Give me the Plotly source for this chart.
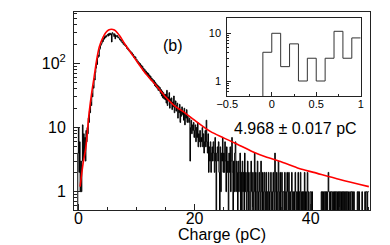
import numpy as np
import plotly.graph_objects as go

# ---------------- data ----------------
BIN_WIDTH = 0.1
FIRST_EDGE = -0.1

counts = [
    4,                                                   # -0.1-0
    10, 2, 6, 1, 3, 1, 3, 11, 3, 8,                      # 0-1
    4, 7, 3, 9, 6, 10, 8, 14, 12, 18,                    # 1-2
    17, 25, 22, 34, 30, 45, 41, 58, 55, 72,              # 2-3
    84, 102, 96, 121, 135, 128, 162, 170, 188, 196,      # 3-4
    205, 231, 218, 246, 238, 262, 249, 270, 258, 276,    # 4-5
    283, 266, 291, 274, 297, 279, 288, 215, 301, 294,    # 5-6
    280, 262, 289, 241, 276, 268, 259, 271, 249, 256,    # 6-7
    244, 232, 238, 221, 227, 209, 214, 198, 205, 191,    # 7-8
    196, 184, 190, 171, 178, 163, 169, 155, 160, 149,    # 8-9
    152, 141, 146, 133, 138, 124, 130, 119, 126, 114,    # 9-10
    116, 104, 109, 98, 103, 93, 99, 88, 94, 85,          # 10-11
    90, 78, 84, 74, 80, 70, 76, 67, 72, 64,              # 11-12
    70, 60, 66, 57, 63, 54, 59, 52, 56, 49,              # 12-13
    54, 45, 51, 43, 48, 41, 46, 38, 44, 37,              # 13-14
    42, 34, 39, 31, 37, 29, 35, 28, 33, 27,              # 14-15
    33, 24, 38, 22, 30, 26, 35, 20, 28, 24,              # 15-16
    29, 19, 25, 21, 31, 17, 23, 26, 18, 22,              # 16-17
    24, 14, 20, 17, 23, 12, 19, 15, 21, 16,              # 17-18
    18, 13, 20, 11, 16, 14, 19, 12, 15, 13,              # 18-19
    12, 14, 3, 10, 13, 8, 11, 9, 12, 7,                  # 19-20
    9, 11, 6, 10, 7, 12, 5, 8, 6, 9,                     # 20-21
    5, 7, 6, 10, 5, 8, 4, 6, 9, 5,                       # 21-22
    13, 6, 4, 8, 2, 5, 3, 6, 2, 4,                       # 22-23
    5, 3, 6, 4, 2, 7, 3, 0, 4, 5,                        # 23-24
    3, 6, 2, 0, 5, 1, 4, 3, 7, 2,                        # 24-25
    4, 2, 6, 3, 1, 5, 2, 3, 0, 4,                        # 25-26
    2, 5, 1, 3, 7, 2, 0, 3, 1, 4,                        # 26-27
    6, 1, 3, 2, 0, 3, 1, 2, 4, 0,                        # 27-28
    2, 0, 3, 1, 2, 0, 4, 1, 2, 0,                        # 28-29
    1, 3, 0, 2, 1, 0, 2, 3, 1, 0,                        # 29-30
    2, 0, 1, 4, 0, 2, 1, 0, 3, 1,                        # 30-31
    0, 2, 1, 0, 3, 1, 0, 2, 0, 1,                        # 31-32
    2, 0, 1, 2, 0, 1, 0, 2, 1, 0,                        # 32-33
    1, 2, 0, 1, 0, 2, 1, 0, 4, 1,                        # 33-34
    0, 2, 1, 0, 3, 1, 0, 2, 0, 1,                        # 34-35
    2, 0, 1, 1, 0, 2, 0, 1, 0, 2,                        # 35-36
    1, 0, 2, 0, 1, 0, 1, 2, 0, 1,                        # 36-37
    0, 1, 0, 2, 1, 0, 1, 0, 2, 0,                        # 37-38
    1, 0, 2, 1, 0, 1, 0, 1, 0, 2,                        # 38-39
    0, 1, 0, 1, 2, 0, 1, 0, 0, 1,                        # 39-40
    1, 0, 1, 0, 0, 0, 0, 0, 0, 0,                        # 40-41
    0, 0, 0, 0, 0, 0, 0, 0, 1, 0,                        # 41-42
    1, 0, 1, 1, 0, 1, 0, 1, 0, 1,                        # 42-43
    2, 1, 0, 1, 0, 1, 1, 0, 1, 0,                        # 43-44
    1, 0, 1, 0, 1, 1, 0, 1, 0, 1,                        # 44-45
    0, 1, 1, 0, 1, 0, 1, 0, 1, 1,                        # 45-46
    0, 1, 0, 1, 1, 0, 0, 1, 0, 1,                        # 46-47
    1, 0, 1, 0, 1, 0, 0, 0, 0, 0,                        # 47-48
    1, 0, 1, 1, 0, 0, 0, 0, 1, 0,                        # 48-49
    0, 0, 0, 1, 0, 1, 1, 0, 1, 1,                        # 49-50
]

fit_x = [0.3, 0.8, 1.3, 1.85, 2.3, 2.7, 3.2, 3.6, 4.2, 4.7, 5.2, 5.7, 6.2, 6.7,
         7.2, 8.0, 9.0, 10.0, 11.5, 13.5, 15.0, 16.5, 18.4, 20.0, 22.7, 25.0,
         27.0, 30.0, 32.2, 35.0, 38.0, 40.5, 45.0, 50.0]
fit_y = [1.2, 2.7, 5.0, 17, 35, 60, 120, 180, 250, 300, 330, 340, 330, 300,
         262, 200, 148, 110, 71, 44, 30, 22, 16.8, 13, 8.7, 6.9,
         5.7, 4.2, 3.5, 2.9, 2.3, 2.0, 1.55, 1.2]

main_xticks = [0, 20, 40]
main_xminor = [5, 10, 15, 25, 30, 35, 45, 50]
main_yticks = [1, 10, 100]
main_yticktext = ["1", "10", "10<sup>2</sup>"]
main_yminor = [0.6, 0.7, 0.8, 0.9, 2, 3, 4, 5, 6, 7, 8, 9,
               20, 30, 40, 50, 60, 70, 80, 90, 200, 300, 400, 500, 600]

inset_nbins = 11
inset_xticks = [-0.5, 0, 0.5, 1]
inset_xticktext = ["\u22120.5", "0", "0.5", "1"]
inset_xminor = [-0.25, 0.25, 0.75]
inset_yticks = [1, 10]
inset_yticktext = ["1", "10"]
inset_yminor = [0.5, 0.6, 0.7, 0.8, 0.9, 2, 3, 4, 5, 6, 7, 8, 9, 20]

label_b = "(b)"
label_val = "4.968 \u00b1 0.017 pC"
x_title = "Charge (pC)"

# ---------------- helpers ----------------
FLOOR = 1e-3
edges = FIRST_EDGE + BIN_WIDTH * np.arange(len(counts) + 1)


def step_xy(c, e):
    ys_vals = [v if v > 0 else FLOOR for v in c]
    xs = [e[0] - 1.0] + list(e)
    ys = [FLOOR] + ys_vals + [ys_vals[-1]]
    return xs, ys


FONT = "Liberation Sans"
W, H = 390, 245
PAGE_OFF = 8  # default body margin of the html page


def px2x(p):
    return (p - PAGE_OFF) / W


def py2y(p):
    return (H - (p - PAGE_OFF)) / H


fig = go.Figure()

hx, hy = step_xy(counts, edges)
fig.add_trace(go.Scatter(x=hx, y=hy, mode="lines", line=dict(color="black", width=1, shape="hv"),
                         xaxis="x", yaxis="y", hoverinfo="skip", showlegend=False))
fig.add_trace(go.Scatter(x=fit_x, y=fit_y, mode="lines",
                         line=dict(color="#ff0000", width=1.6, shape="spline", smoothing=0.8),
                         xaxis="x", yaxis="y", hoverinfo="skip", showlegend=False))

ix, iy = step_xy(counts[:inset_nbins], edges[:inset_nbins + 1])
fig.add_trace(go.Scatter(x=ix, y=iy, mode="lines", line=dict(color="#333333", width=1, shape="hv"),
                         xaxis="x2", yaxis="y2", hoverinfo="skip", showlegend=False))

axis_common = dict(showgrid=False, zeroline=False, showline=True, mirror=True, automargin=False,
                   linecolor="#222222", linewidth=1, ticks="inside", tickcolor="#222222",
                   tickwidth=1)

fig.update_layout(
    width=W, height=H,
    margin=dict(l=0, r=0, t=0, b=0, autoexpand=False),
    paper_bgcolor="white", plot_bgcolor="white",
    font=dict(family=FONT, color="black", size=16),
    xaxis=dict(domain=[px2x(74), px2x(370)], range=[-0.75, 50.2], anchor="y",
               tickvals=main_xticks, ticklen=6, tickfont=dict(size=16),
               ticklabelstandoff=-6,
               minor=dict(tickvals=main_xminor, ticks="inside", ticklen=3, tickcolor="#222222"),
               **axis_common),
    yaxis=dict(domain=[py2y(210), py2y(12)], type="log", range=[-0.285, 2.80], anchor="x",
               tickvals=main_yticks, ticktext=main_yticktext, ticklen=6, tickfont=dict(size=16),
               ticklabelstandoff=4,
               minor=dict(tickvals=main_yminor, ticks="inside", ticklen=3, tickcolor="#222222"),
               **axis_common),
    xaxis2=dict(domain=[px2x(227.3), px2x(360.7)], range=[-0.5, 1.0], anchor="y2",
                tickvals=inset_xticks, ticktext=inset_xticktext, ticklen=4, tickfont=dict(size=11),
                ticklabelstandoff=-2,
                minor=dict(tickvals=inset_xminor, ticks="inside", ticklen=2, tickcolor="#222222"),
                **axis_common),
    yaxis2=dict(domain=[py2y(96), py2y(18.3)], type="log", range=[-0.314, 1.314], anchor="x2",
                tickvals=inset_yticks, ticktext=inset_yticktext, ticklen=4, tickfont=dict(size=11),
                ticklabelstandoff=3,
                minor=dict(tickvals=inset_yminor, ticks="inside", ticklen=2, tickcolor="#222222"),
                **axis_common),
    annotations=[
        dict(text=label_b, x=px2x(173), y=py2y(45), xref="paper", yref="paper",
             showarrow=False, font=dict(size=16), xanchor="center", yanchor="middle"),
        dict(text=label_val, x=px2x(295), y=py2y(128.5), xref="paper", yref="paper",
             showarrow=False, font=dict(size=16), xanchor="center", yanchor="middle"),
        dict(text=x_title, x=px2x(222), y=py2y(234.5), xref="paper", yref="paper",
             showarrow=False, font=dict(size=16), xanchor="center", yanchor="middle"),
    ],
)

fig.write_html("out.html")
